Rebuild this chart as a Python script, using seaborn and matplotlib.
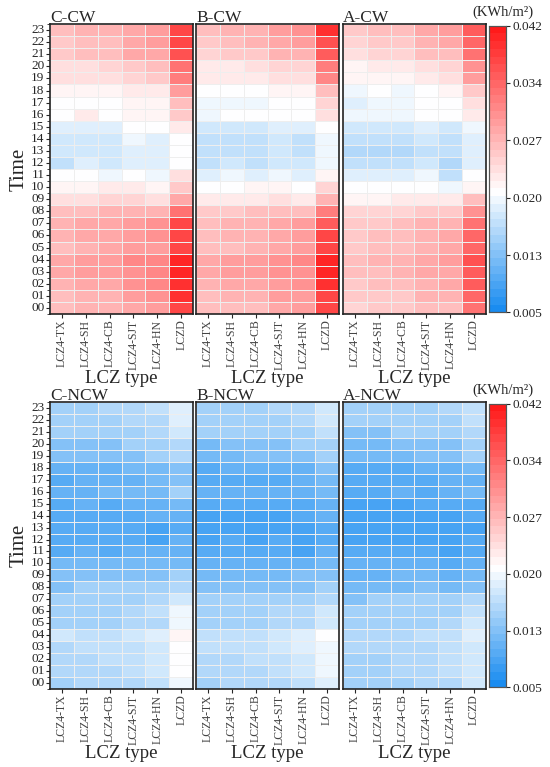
import numpy as np
import pandas as pd
import matplotlib
matplotlib.use("Agg")
import matplotlib.pyplot as plt
import seaborn as sns
from matplotlib.colors import LinearSegmentedColormap

sns.set_style("white")
plt.rcParams['font.family'] = ['Liberation Serif', 'DejaVu Sans']

# -------------------------
# data (rows from 23 at top down to 00)
# -------------------------
lcz_types = ['LCZ4-TX', 'LCZ4-SH', 'LCZ4-CB', 'LCZ4-SJT', 'LCZ4-HN', 'LCZD']
hours = ['%02d' % h for h in range(23, -1, -1)]
cbar_labels = ['0.005', '0.013', '0.020', '0.027', '0.034', '0.042']

c_cw = [
    [.027, .028, .028, .029, .030, .038],
    [.026, .027, .027, .029, .030, .038],
    [.026, .027, .027, .029, .029, .037],
    [.024, .024, .025, .026, .027, .034],
    [.024, .024, .024, .025, .026, .033],
    [.022, .022, .022, .023, .023, .030],
    [.021, .021, .021, .022, .022, .027],
    [.021, .023, .021, .022, .022, .026],
    [.019, .019, .019, .021, .021, .023],
    [.018, .018, .018, .020, .019, .021],
    [.018, .018, .018, .019, .019, .021],
    [.017, .019, .018, .019, .019, .021],
    [.021, .021, .020, .021, .020, .024],
    [.022, .022, .023, .023, .022, .026],
    [.024, .024, .025, .025, .024, .029],
    [.027, .027, .028, .028, .028, .034],
    [.028, .029, .029, .030, .031, .038],
    [.028, .029, .029, .030, .031, .038],
    [.027, .028, .029, .030, .030, .038],
    [.029, .030, .030, .032, .032, .040],
    [.029, .030, .030, .031, .032, .040],
    [.028, .029, .029, .031, .032, .039],
    [.027, .028, .028, .030, .031, .039],
    [.027, .028, .028, .029, .030, .038],
]

b_cw = [
    [.027, .028, .028, .030, .031, .039],
    [.026, .027, .028, .029, .030, .037],
    [.025, .026, .026, .028, .028, .036],
    [.023, .023, .024, .025, .025, .033],
    [.023, .023, .023, .024, .024, .032],
    [.021, .021, .021, .022, .022, .027],
    [.020, .020, .020, .021, .021, .025],
    [.020, .021, .021, .021, .021, .024],
    [.018, .018, .018, .019, .019, .021],
    [.017, .017, .017, .018, .017, .020],
    [.017, .017, .017, .018, .017, .020],
    [.017, .018, .017, .018, .018, .020],
    [.019, .020, .019, .020, .019, .022],
    [.021, .021, .022, .022, .021, .025],
    [.023, .023, .023, .024, .023, .028],
    [.026, .026, .027, .027, .027, .033],
    [.027, .028, .028, .029, .030, .036],
    [.027, .028, .028, .029, .030, .038],
    [.027, .027, .028, .029, .030, .038],
    [.029, .030, .030, .031, .032, .040],
    [.029, .030, .030, .031, .031, .040],
    [.028, .029, .029, .030, .031, .039],
    [.027, .028, .028, .030, .030, .038],
    [.027, .027, .027, .029, .030, .038],
]

a_cw = [
    [.026, .027, .027, .029, .030, .036],
    [.025, .026, .026, .028, .029, .035],
    [.024, .025, .025, .027, .027, .034],
    [.022, .023, .023, .024, .025, .031],
    [.022, .022, .022, .023, .024, .030],
    [.020, .021, .020, .021, .022, .026],
    [.019, .020, .020, .021, .021, .024],
    [.020, .020, .020, .021, .021, .023],
    [.018, .018, .018, .019, .018, .020],
    [.017, .017, .017, .018, .017, .019],
    [.016, .016, .016, .017, .017, .019],
    [.017, .017, .017, .018, .016, .019],
    [.019, .019, .019, .020, .017, .021],
    [.021, .021, .021, .021, .020, .022],
    [.022, .022, .023, .023, .023, .027],
    [.025, .025, .025, .026, .026, .031],
    [.026, .026, .027, .028, .028, .034],
    [.026, .027, .027, .028, .029, .035],
    [.026, .027, .027, .028, .029, .035],
    [.027, .028, .028, .029, .030, .037],
    [.027, .027, .028, .029, .029, .036],
    [.026, .027, .027, .028, .029, .036],
    [.026, .026, .026, .028, .028, .035],
    [.025, .026, .026, .027, .027, .034],
]

c_ncw = [
    [.015, .015, .016, .016, .017, .019],
    [.015, .015, .015, .016, .016, .019],
    [.014, .014, .014, .015, .016, .018],
    [.013, .013, .013, .014, .014, .016],
    [.013, .013, .013, .013, .014, .016],
    [.011, .011, .011, .012, .012, .013],
    [.010, .011, .011, .011, .012, .013],
    [.011, .011, .012, .012, .012, .014],
    [.010, .011, .010, .011, .011, .012],
    [.010, .010, .010, .010, .011, .011],
    [.010, .010, .010, .010, .009, .010],
    [.010, .010, .010, .010, .009, .011],
    [.010, .011, .010, .011, .011, .011],
    [.012, .012, .012, .012, .012, .012],
    [.013, .013, .013, .013, .013, .014],
    [.013, .014, .014, .014, .014, .016],
    [.015, .015, .015, .015, .016, .018],
    [.015, .015, .015, .016, .017, .020],
    [.015, .015, .015, .016, .016, .020],
    [.018, .017, .017, .018, .019, .022],
    [.016, .017, .017, .017, .018, .021],
    [.016, .016, .017, .017, .018, .021],
    [.016, .016, .016, .017, .018, .021],
    [.015, .016, .016, .016, .017, .020],
]

b_ncw = [
    [.015, .015, .015, .016, .016, .018],
    [.014, .015, .015, .015, .016, .018],
    [.014, .014, .014, .015, .015, .017],
    [.012, .013, .013, .013, .014, .015],
    [.012, .012, .013, .013, .013, .015],
    [.010, .011, .011, .011, .011, .013],
    [.010, .010, .010, .010, .011, .012],
    [.011, .011, .011, .011, .011, .012],
    [.010, .010, .010, .010, .010, .011],
    [.009, .009, .009, .009, .010, .011],
    [.009, .009, .009, .009, .009, .010],
    [.009, .010, .009, .010, .009, .010],
    [.010, .010, .010, .010, .009, .011],
    [.011, .011, .011, .011, .011, .012],
    [.012, .012, .012, .012, .013, .013],
    [.013, .013, .013, .013, .013, .014],
    [.014, .014, .014, .014, .015, .016],
    [.015, .015, .015, .016, .016, .018],
    [.015, .015, .015, .016, .016, .018],
    [.017, .017, .017, .018, .019, .021],
    [.017, .017, .017, .018, .019, .020],
    [.016, .016, .017, .017, .018, .020],
    [.016, .016, .016, .017, .018, .020],
    [.015, .016, .016, .016, .017, .019],
]

a_ncw = [
    [.014, .015, .015, .015, .016, .017],
    [.014, .014, .015, .015, .015, .017],
    [.013, .013, .014, .014, .015, .016],
    [.012, .012, .013, .013, .013, .015],
    [.012, .012, .012, .013, .013, .014],
    [.010, .010, .010, .011, .011, .012],
    [.010, .010, .010, .010, .011, .011],
    [.010, .010, .011, .010, .011, .012],
    [.009, .009, .009, .010, .010, .010],
    [.009, .009, .009, .009, .009, .010],
    [.009, .009, .009, .009, .009, .009],
    [.009, .009, .009, .009, .009, .010],
    [.010, .010, .010, .010, .009, .010],
    [.011, .011, .011, .011, .010, .011],
    [.011, .011, .012, .012, .011, .012],
    [.012, .012, .012, .013, .012, .013],
    [.013, .014, .014, .014, .014, .016],
    [.014, .014, .014, .015, .015, .017],
    [.014, .014, .015, .015, .016, .018],
    [.016, .016, .016, .017, .017, .019],
    [.016, .016, .016, .016, .017, .018],
    [.015, .015, .016, .016, .017, .018],
    [.015, .015, .016, .016, .017, .018],
    [.015, .015, .015, .016, .016, .018],
]

panels = [
    [('C-CW', c_cw), ('B-CW', b_cw), ('A-CW', a_cw)],
    [('C-NCW', c_ncw), ('B-NCW', b_ncw), ('A-NCW', a_ncw)],
]

# -------------------------
# colormap: blue -> white -> red, stepped
# -------------------------
vmin, vmax = 0.005, 0.042
white_at = (0.0205 - vmin) / (vmax - vmin)
cmap = LinearSegmentedColormap.from_list(
    'bwr_steps', [(0, '#1a8cf0'), (white_at, '#ffffff'), (1, '#ff1a1a')], N=37)

fig = plt.figure(figsize=(5.5, 7.67), dpi=100)

lefts = [0.091, 0.3564, 0.6236]
width = 0.26
rows = [(0.5906, 0.378), (0.1017, 0.3742)]
cbar_left, cbar_w = 0.889, 0.031

for r, row in enumerate(panels):
    bottom, height = rows[r]
    cax = fig.add_axes([cbar_left, bottom + 0.002, cbar_w, height - 0.004])
    for c, (name, vals) in enumerate(row):
        ax = fig.add_axes([lefts[c], bottom, width, height])
        df = pd.DataFrame(vals, index=hours, columns=lcz_types)
        last = c == 2
        sns.heatmap(df, ax=ax, cmap=cmap, vmin=vmin, vmax=vmax,
                    linewidths=0.4, linecolor='#eeeeee',
                    xticklabels=True, yticklabels=(c == 0),
                    cbar=last, cbar_ax=cax if last else None)
        for sp in ax.spines.values():
            sp.set_visible(True)
            sp.set_linewidth(1.2)
            sp.set_color('#222222')
        ax.set_title(name, loc='left', fontsize=12.5, pad=1.5)
        ax.tick_params(axis='x', bottom=True, length=3, width=0.8, pad=1,
                       labelsize=8.5, labelcolor='#444444', labelrotation=90)
        ax.set_xlabel('LCZ type', fontsize=13.5, labelpad=0)
        if c == 0:
            ax.tick_params(axis='y', left=True, length=3, width=0.8, pad=1,
                           labelsize=9.5, labelrotation=0)
            ax.set_yticks(np.arange(0, 25), minor=True)
            ax.tick_params(axis='y', which='minor', left=True, length=2, width=0.6)
            ax.set_ylabel('Time', fontsize=15, labelpad=2)
        else:
            ax.set_ylabel('')
    cax.set_yticks(np.linspace(vmin, vmax, len(cbar_labels)))
    cax.set_yticklabels(cbar_labels)
    cax.tick_params(labelsize=9.5, right=True, length=3, width=0.8, pad=2)
    for sp in cax.spines.values():
        sp.set_visible(True)
        sp.set_linewidth(0.8)
        sp.set_color('#555555')
    fig.text(0.915, bottom + height + 0.006, '(KWh/m²)', fontsize=10.5,
             ha='center', va='bottom')

fig.savefig('out.png', dpi=100)
